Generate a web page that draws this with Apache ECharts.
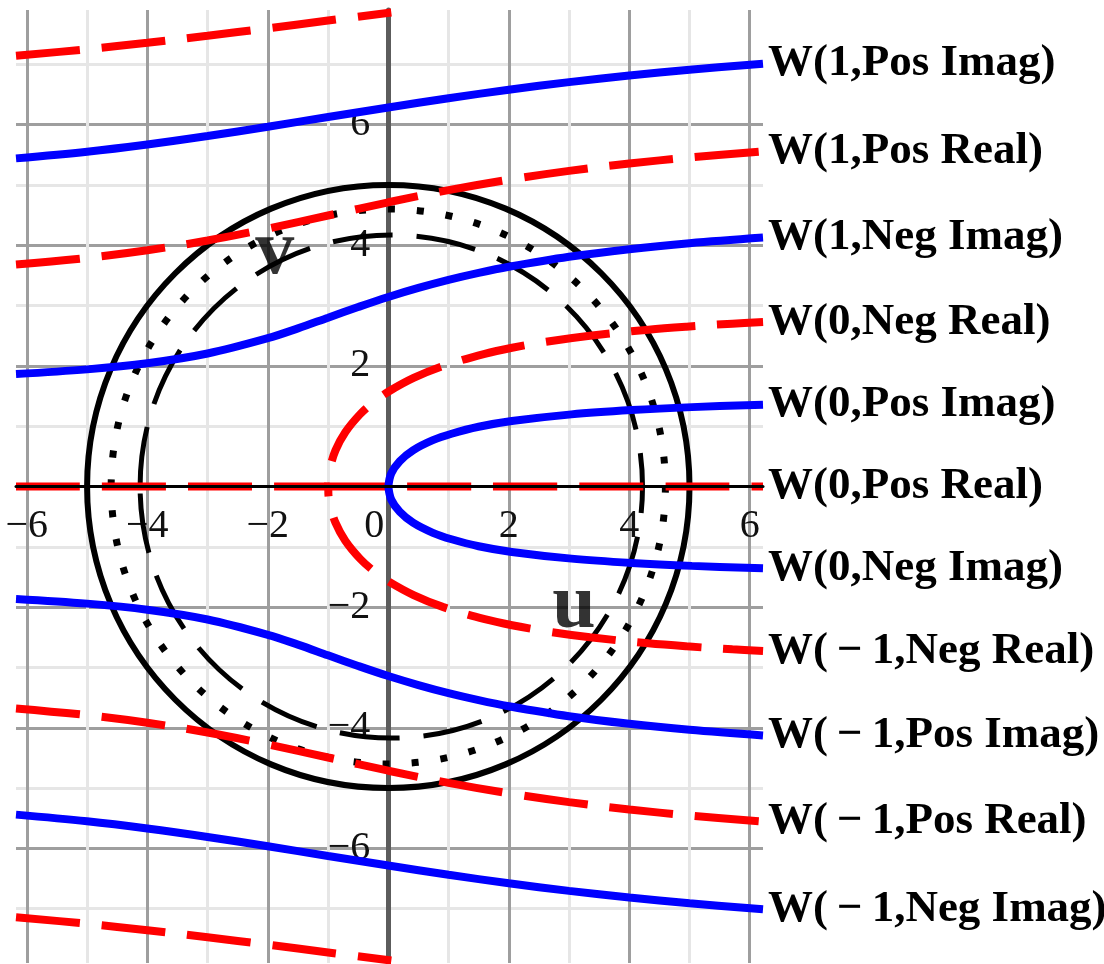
<!DOCTYPE html>
<html>
<head>
<meta charset="utf-8">
<script src="https://cdn.jsdelivr.net/npm/echarts@6/dist/echarts.min.js"></script>
<style>
html, body {margin: 0; padding: 0; background: #fff;}
#chart {width: 1104px; height: 964px;}
</style>
</head>
<body>
<div id="chart"></div>
<script>
// axis ranges
const xMin = -6.18, xMax = 6.22;
const yMin = -7.9, yMax = 7.9;

// blue branches (images of the imaginary axis)
const w1PosImag = [[-6.18, 5.44], [-5, 5.55], [-4, 5.67], [-3, 5.81], [-2, 5.965], [-1, 6.125], [0, 6.283], [1, 6.437], [2, 6.579], [3, 6.704], [4, 6.814], [5, 6.91], [6.22, 7.01]];
const w1NegImag = [[-6.18, 1.864], [-5, 1.942], [-4, 2.043], [-3, 2.205], [-2, 2.459], [-1.5, 2.622], [-1, 2.799], [-0.5, 2.975], [0, 3.142], [0.5, 3.292], [1, 3.426], [1.5, 3.542], [2, 3.643], [3, 3.809], [4, 3.935], [5, 4.033], [6.22, 4.127]];
const w0PosImag = [[0, 0], [0.05, 0.22], [0.19, 0.42], [0.41, 0.6], [0.74, 0.768], [1.05, 0.875], [1.5, 0.99], [2.05, 1.085], [3.04, 1.196], [4.04, 1.267], [5.04, 1.316], [6.22, 1.356]];
const w0NegImag = [[0, 0], [0.05, -0.22], [0.19, -0.42], [0.41, -0.6], [0.74, -0.768], [1.05, -0.875], [1.5, -0.99], [2.05, -1.085], [3.04, -1.196], [4.04, -1.267], [5.04, -1.316], [6.22, -1.356]];
const wm1PosImag = [[-6.18, -1.864], [-5, -1.942], [-4, -2.043], [-3, -2.205], [-2, -2.459], [-1.5, -2.622], [-1, -2.799], [-0.5, -2.975], [0, -3.142], [0.5, -3.292], [1, -3.426], [1.5, -3.542], [2, -3.643], [3, -3.809], [4, -3.935], [5, -4.033], [6.22, -4.127]];
const wm1NegImag = [[-6.18, -5.44], [-5, -5.55], [-4, -5.67], [-3, -5.81], [-2, -5.965], [-1, -6.125], [0, -6.283], [1, -6.437], [2, -6.579], [3, -6.704], [4, -6.814], [5, -6.91], [6.22, -7.01]];

// red branches (images of the real axis)
const w1NegRealTop = [[-6.18, 7.14], [-5, 7.25], [-4, 7.356], [-3, 7.472], [-2, 7.597], [-1, 7.725], [0.05, 7.86]];
const w1PosReal = [[-6.18, 3.679], [-5, 3.79], [-4, 3.916], [-3, 4.078], [-2, 4.275], [-1, 4.493], [0, 4.712], [1, 4.913], [2, 5.087], [3, 5.233], [4, 5.354], [5, 5.454], [6.22, 5.554]];
const w0NegReal = [[0, 0], [-0.9, 0], [-1, 0], [-0.993, 0.15], [-0.97, 0.3], [-0.877, 0.6], [-0.714, 0.9], [-0.467, 1.2], [-0.242, 1.4], [0, 1.571], [0.42, 1.8], [0.915, 2.0], [1.601, 2.2], [2.055, 2.3], [2.62, 2.4], [3.347, 2.5], [4.319, 2.6], [4.95, 2.65], [5.712, 2.7], [6.221, 2.728]];
const w0PosReal = [[0, 0], [6.22, 0]];
const wm1NegReal = [[-6.18, 0], [-1.1, 0], [-1, 0], [-0.993, -0.15], [-0.97, -0.3], [-0.877, -0.6], [-0.714, -0.9], [-0.467, -1.2], [-0.242, -1.4], [0, -1.571], [0.42, -1.8], [0.915, -2.0], [1.601, -2.2], [2.055, -2.3], [2.62, -2.4], [3.347, -2.5], [4.319, -2.6], [4.95, -2.65], [5.712, -2.7], [6.221, -2.728]];
const wm1PosReal = [[-6.18, -3.679], [-5, -3.79], [-4, -3.916], [-3, -4.078], [-2, -4.275], [-1, -4.493], [0, -4.712], [1, -4.913], [2, -5.087], [3, -5.233], [4, -5.354], [5, -5.454], [6.22, -5.554]];
const wm1NegRealBottom = [[-6.18, -7.14], [-5, -7.25], [-4, -7.356], [-3, -7.472], [-2, -7.597], [-1, -7.725], [0.05, -7.86]];

// rings: centre x, centre y, radius
const rings = [[0, 0, 5], [0, 0, 4.6], [0.05, 0, 4.17]];
// u / v annotations
const marks = [{name: 'u', value: [3.08, -2.0]}, {name: 'v', value: [-1.885, 3.88]}];

const ringStyles = [
    {width: 6, dash: null},
    {width: 7, dash: [7, 22]},
    {width: 5, dash: [60, 24]}
];

const gridBox = {left: 16, top: 10, width: 747, height: 953};
// shift the axes so they cross at the origin
const yAxisShift = -(0 - xMin) / (xMax - xMin) * gridBox.width;
const xAxisShift = -(0 - yMin) / (yMax - yMin) * gridBox.height;

const serif = 'Liberation Serif';
const minus = s => String(s).replace('-', '\u2212');

function branch(name, data, color, dashed, offset) {
    return {
        name: name,
        type: 'line',
        data: data,
        smooth: 0.35,
        symbol: 'none',
        silent: true,
        z: 3,
        lineStyle: {color: color, width: 8, type: dashed ? [64, 22] : 'solid', dashOffset: offset || 0, cap: 'butt'},
        endLabel: {
            show: name.charAt(0) === 'W',
            formatter: '{a}',
            distance: 5,
            fontFamily: serif,
            fontWeight: 'bold',
            fontSize: 45,
            color: '#000'
        }
    };
}

const chart = echarts.init(document.getElementById('chart'));
chart.setOption({
    animation: false,
    backgroundColor: '#fff',
    grid: Object.assign({containLabel: false, outerBoundsMode: 'none'}, gridBox),
    xAxis: {
        type: 'value',
        position: 'bottom',
        offset: xAxisShift,
        min: xMin,
        max: xMax,
        splitNumber: 6,
        axisLine: {onZero: false, lineStyle: {color: '#000', width: 3}},
        axisTick: {show: false},
        axisLabel: {
            margin: 20,
            fontFamily: serif,
            fontSize: 40,
            color: '#111',
            showMinLabel: false,
            showMaxLabel: false,
            formatter: v => v === 0 ? '{z|0}' : minus(v),
            rich: {z: {fontFamily: serif, fontSize: 40, color: '#111', padding: [0, 28, 0, 0]}}
        },
        splitLine: {show: true, showMinLine: false, showMaxLine: false, lineStyle: {color: '#9e9e9e', width: 3}},
        minorTick: {show: false, splitNumber: 2},
        minorSplitLine: {show: true, lineStyle: {color: '#e6e6e6', width: 3}}
    },
    yAxis: {
        type: 'value',
        position: 'left',
        offset: yAxisShift,
        min: yMin,
        max: yMax,
        splitNumber: 8,
        axisLine: {onZero: false, lineStyle: {color: '#5c5c5c', width: 5}},
        axisTick: {show: false},
        axisLabel: {
            margin: 18,
            fontFamily: serif,
            fontSize: 40,
            color: '#111',
            showMinLabel: false,
            showMaxLabel: false,
            formatter: v => v === 0 ? '' : minus(v)
        },
        splitLine: {show: true, showMinLine: false, showMaxLine: false, lineStyle: {color: '#9e9e9e', width: 3}},
        minorTick: {show: false, splitNumber: 2},
        minorSplitLine: {show: true, lineStyle: {color: '#e6e6e6', width: 3}}
    },
    series: [
        {
            type: 'custom',
            silent: true,
            z: 2,
            clip: false,
            data: rings,
            encode: {x: 0, y: 1},
            renderItem: function (params, api) {
                const c = api.coord([api.value(0), api.value(1)]);
                const r = api.value(2);
                const st = ringStyles[params.dataIndex];
                return {
                    type: 'ellipse',
                    shape: {cx: c[0], cy: c[1], rx: api.size([r, 0])[0], ry: api.size([0, r])[1]},
                    style: {fill: 'none', stroke: '#000', lineWidth: st.width, lineDash: st.dash, lineCap: 'butt'}
                };
            }
        },
        branch('_top', w1NegRealTop, '#ff0000', true),
        branch('W(1,Pos Imag)', w1PosImag, '#0000ff', false),
        branch('W(1,Pos Real)', w1PosReal, '#ff0000', true),
        branch('W(1,Neg Imag)', w1NegImag, '#0000ff', false),
        branch('W(0,Neg Real)', w0NegReal, '#ff0000', true),
        branch('W(0,Pos Imag)', w0PosImag, '#0000ff', false),
        branch('W(0,Pos Real)', w0PosReal, '#ff0000', true, 67),
        branch('W(0,Neg Imag)', w0NegImag, '#0000ff', false),
        branch('W(\u2009\u2212\u20091,Neg Real)', wm1NegReal, '#ff0000', true),
        branch('W(\u2009\u2212\u20091,Pos Imag)', wm1PosImag, '#0000ff', false),
        branch('W(\u2009\u2212\u20091,Pos Real)', wm1PosReal, '#ff0000', true),
        branch('W(\u2009\u2212\u20091,Neg Imag)', wm1NegImag, '#0000ff', false),
        branch('_bottom', wm1NegRealBottom, '#ff0000', true),
        {
            type: 'line',
            silent: true,
            z: 5,
            symbol: 'none',
            data: [[xMin, 0], [xMax, 0]],
            lineStyle: {color: '#000', width: 3}
        },
        {
            type: 'scatter',
            silent: true,
            z: 4,
            symbolSize: 0,
            data: marks,
            label: {
                show: true,
                position: 'inside',
                formatter: '{b}',
                fontFamily: serif,
                fontWeight: 'bold',
                fontSize: 78,
                color: '#000'
            }
        }
    ]
});
</script>
</body>
</html>
